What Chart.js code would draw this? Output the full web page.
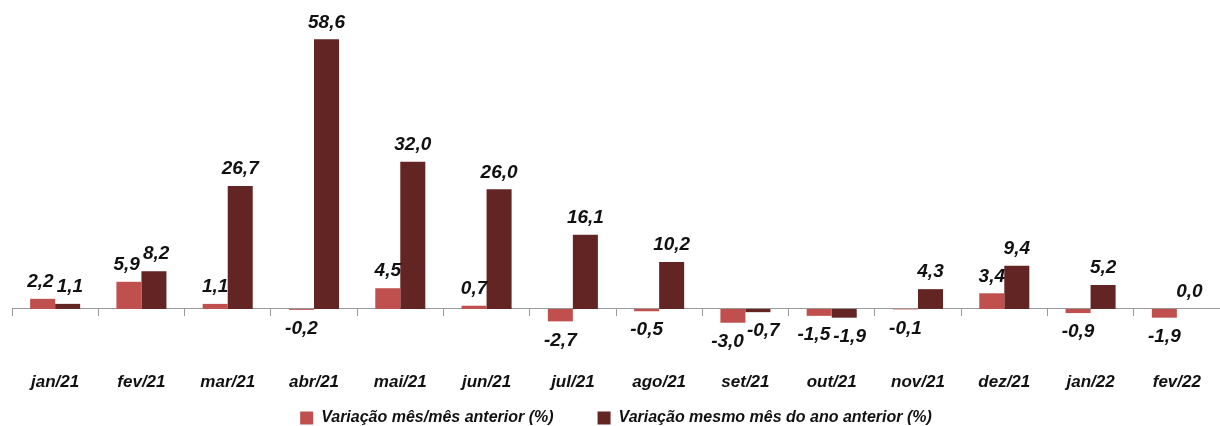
<!DOCTYPE html>
<html>
<head>
<meta charset="utf-8">
<script src="https://cdn.jsdelivr.net/npm/chart.js@4"></script>
<style>
  html, body { margin: 0; padding: 0; background: #fff; }
  #wrap { width: 1220px; height: 426px; }
</style>
</head>
<body>
<div id="wrap"><canvas id="chart"></canvas></div>
<script>
const months = ['jan/21', 'fev/21', 'mar/21', 'abr/21', 'mai/21', 'jun/21', 'jul/21',
  'ago/21', 'set/21', 'out/21', 'nov/21', 'dez/21', 'jan/22', 'fev/22'];
const varMensal = [2.2, 5.9, 1.1, -0.2, 4.5, 0.7, -2.7, -0.5, -3.0, -1.5, -0.1, 3.4, -0.9, -1.9];
const varAnual = [1.1, 8.2, 26.7, 58.6, 32.0, 26.0, 16.1, 10.2, -0.7, -1.9, 4.3, 9.4, 5.2, 0.0];

const FONT = "'Liberation Sans', Arial, sans-serif";
const fmt = v => v.toFixed(1).replace('.', ',');

// rotulos de valor em cima/baixo das barras, afastados quando se encostam
const valueLabels = {
  id: 'valueLabels',
  afterDatasetsDraw(chart) {
    const ctx = chart.ctx;
    ctx.save();
    ctx.font = 'italic bold 19px ' + FONT;
    ctx.fillStyle = '#111';
    ctx.textAlign = 'center';
    ctx.textBaseline = 'middle';
    const m0 = chart.getDatasetMeta(0).data;
    const m1 = chart.getDatasetMeta(1).data;
    const place = (bar, v) => v >= 0 ? bar.y - 17 : bar.y + 19;
    months.forEach((_, j) => {
      const items = [
        { txt: fmt(varMensal[j]), x: m0[j].x, y: place(m0[j], varMensal[j]) },
        { txt: fmt(varAnual[j]), x: m1[j].x, y: place(m1[j], varAnual[j]) }
      ];
      const w0 = ctx.measureText(items[0].txt).width;
      const w1 = ctx.measureText(items[1].txt).width;
      const need = w0 / 2 + w1 / 2 + 3;
      const dist = items[1].x - items[0].x;
      if (Math.abs(items[0].y - items[1].y) < 18 && dist < need) {
        const s = (need - dist) / 2;
        items[0].x -= s;
        items[1].x += s;
      }
      items.forEach(it => ctx.fillText(it.txt, it.x, it.y));
    });
    ctx.restore();
  }
};

new Chart(document.getElementById('chart'), {
  type: 'bar',
  data: {
    labels: months,
    datasets: [
      { label: 'Variação mês/mês anterior (%)', data: varMensal, backgroundColor: '#C0504D' },
      { label: 'Variação mesmo mês do ano anterior (%)', data: varAnual, backgroundColor: '#632523' }
    ]
  },
  options: {
    responsive: true,
    maintainAspectRatio: false,
    animation: false,
    categoryPercentage: 0.58,
    barPercentage: 1.0,
    layout: { padding: { top: 8, left: 12, right: 0, bottom: -10 } },
    scales: {
      x: {
        position: { y: 0 },
        afterFit(scale) { scale.paddingLeft = 0; scale.paddingRight = 0; },
        grid: { offset: true, drawOnChartArea: false, tickLength: 7, color: '#999' },
        border: { color: '#999' },
        ticks: { padding: 56, color: '#111', font: { family: FONT, size: 17, weight: 'bold', style: 'italic' } }
      },
      y: {
        display: false,
        min: -12.4,
        max: 65.4
      }
    },
    plugins: {
      legend: {
        position: 'bottom',
        labels: {
          boxWidth: 13,
          boxHeight: 13,
          padding: 44,
          color: '#111',
          font: { family: FONT, size: 16, weight: 'bold', style: 'italic' }
        }
      },
      tooltip: { enabled: false }
    }
  },
  plugins: [valueLabels]
});
</script>
</body>
</html>
